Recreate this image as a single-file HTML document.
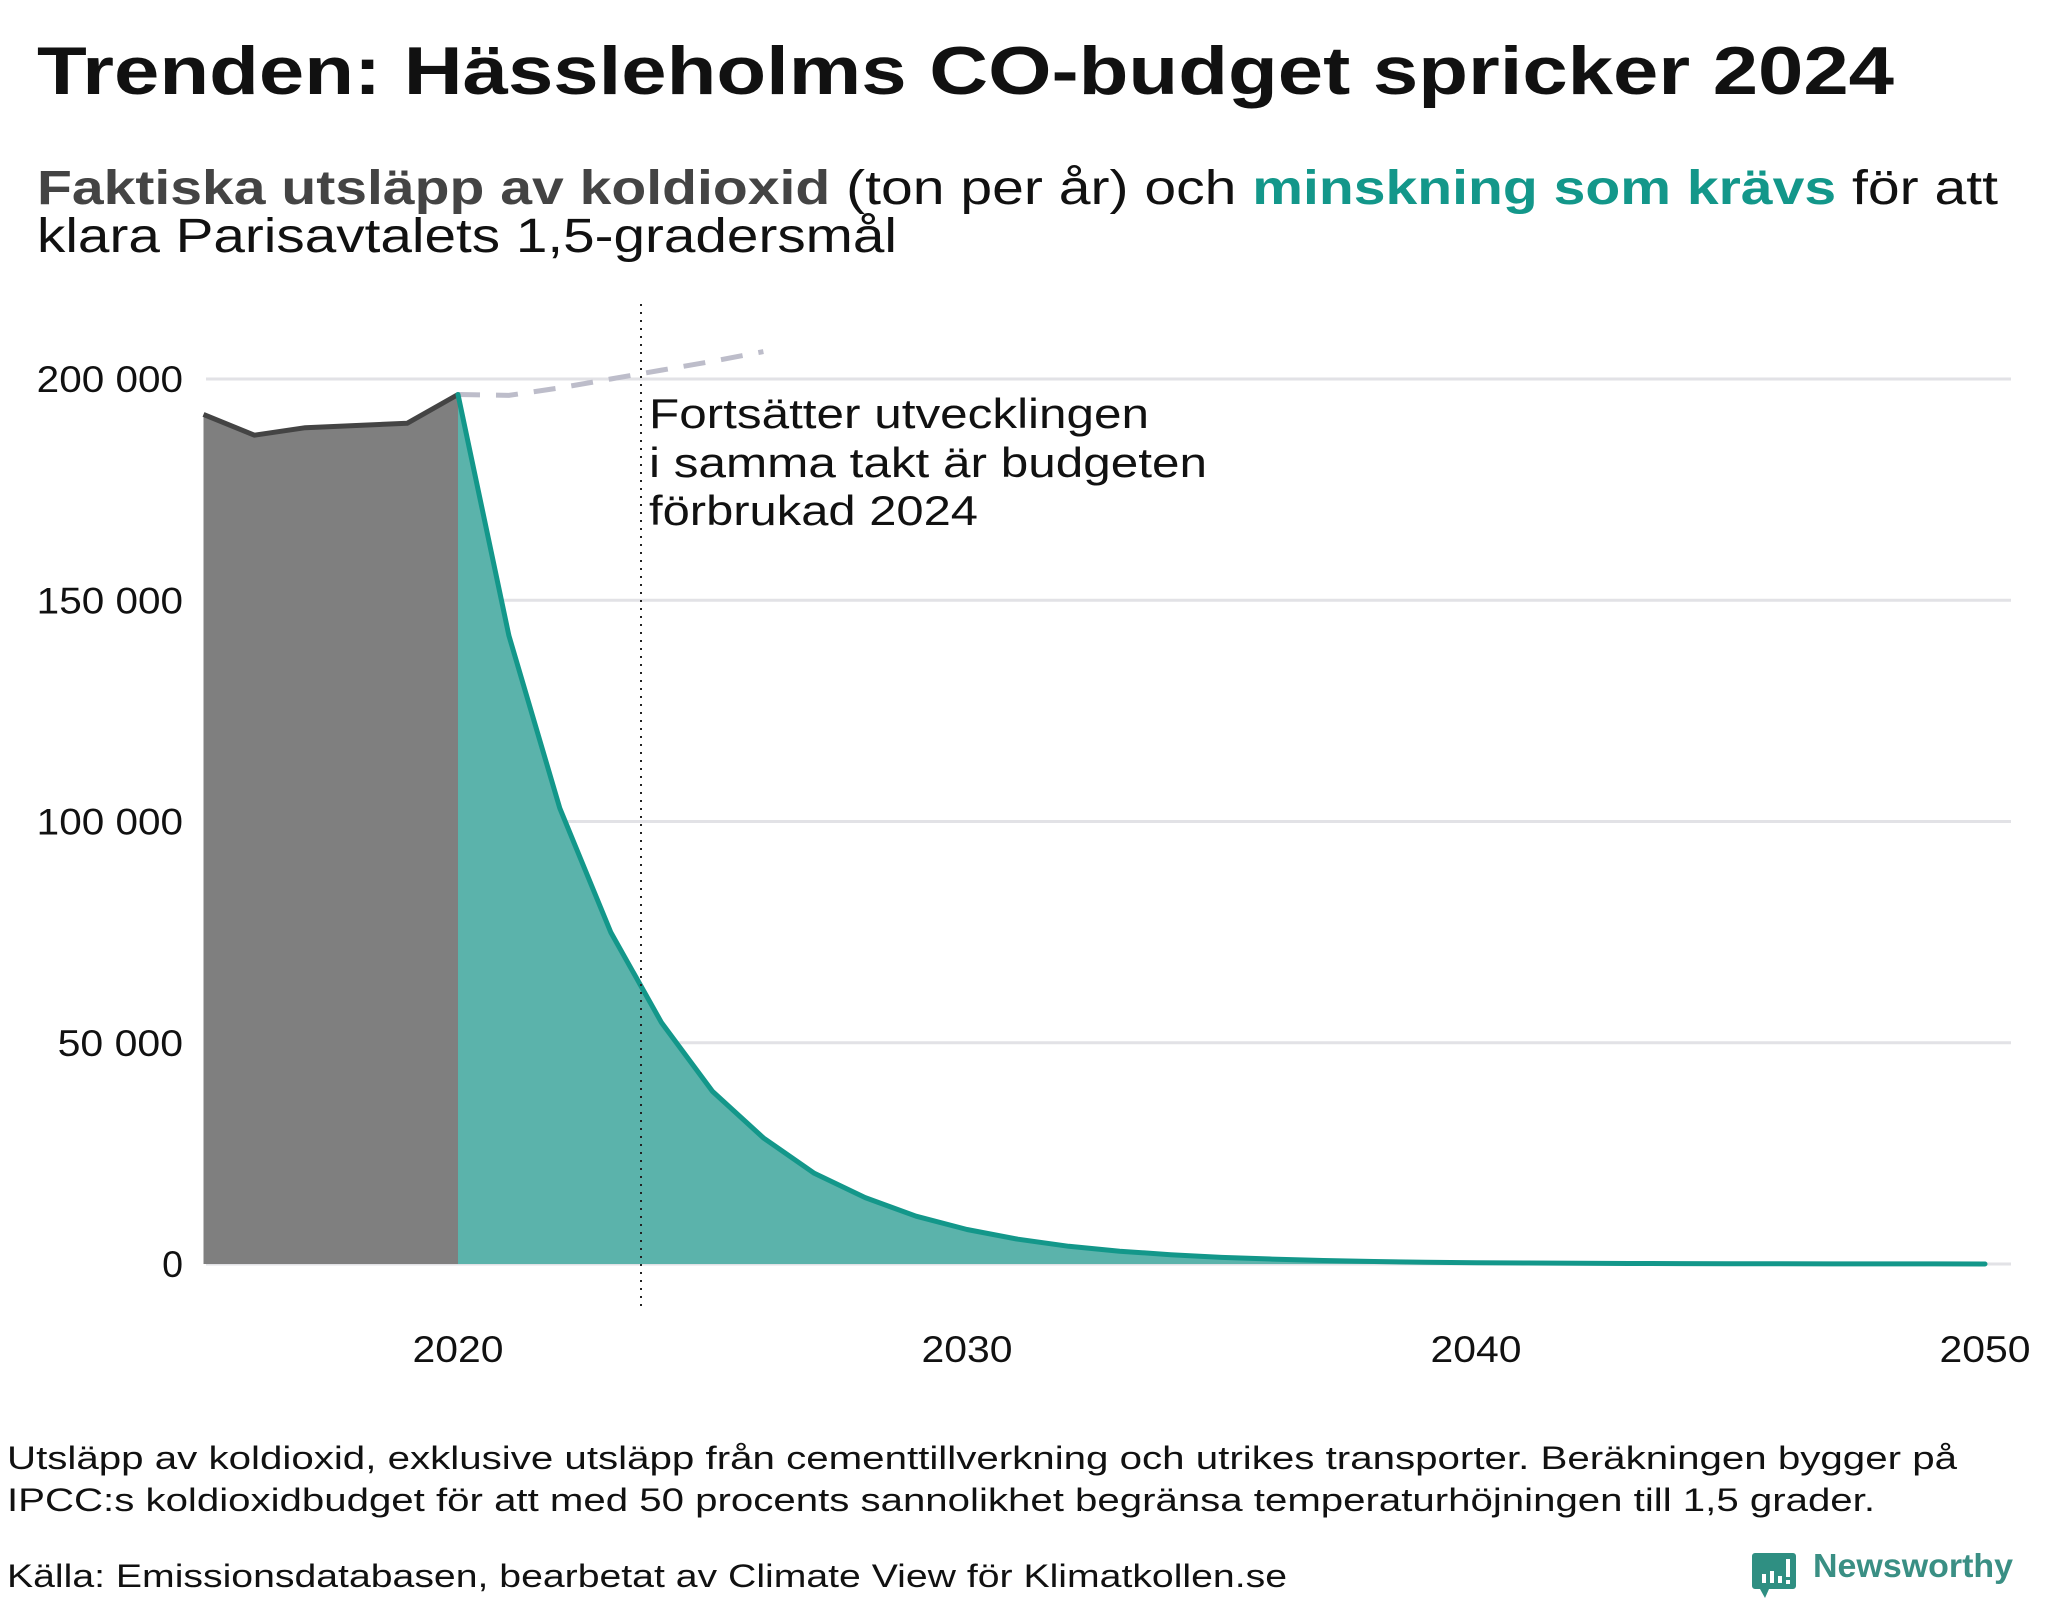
<!DOCTYPE html>
<html><head><meta charset="utf-8"><style>
html,body{margin:0;padding:0;background:#fff;}
svg{display:block;font-family:"Liberation Sans",sans-serif;}
</style></head><body>
<svg id="chart" width="2048" height="1600" viewBox="0 0 2048 1600" xmlns="http://www.w3.org/2000/svg">
<text x="37" y="94" font-size="68" font-weight="bold" fill="#111" textLength="1857" lengthAdjust="spacingAndGlyphs">Trenden: Hässleholms CO-budget spricker 2024</text>
<text x="37" y="204" font-size="48" fill="#111" textLength="1961" lengthAdjust="spacingAndGlyphs"><tspan font-weight="bold" fill="#444">Faktiska utsläpp av koldioxid</tspan> (ton per år) och <tspan font-weight="bold" fill="#13978a">minskning som krävs</tspan> för att</text>
<text x="37" y="252" font-size="48" fill="#111" textLength="860" lengthAdjust="spacingAndGlyphs">klara Parisavtalets 1,5-gradersmål</text>
<g id="grid"></g>
<g id="areas"></g>
<g id="lines"></g>
<g id="ylabels"></g>
<g id="xlabels"></g>
<line x1="641" y1="304" x2="641" y2="1310" stroke="#222" stroke-width="2" stroke-dasharray="2,6"/>
<g font-size="42" fill="#111">
<text x="649" y="428" textLength="500" lengthAdjust="spacingAndGlyphs">Fortsätter utvecklingen</text>
<text x="649" y="477" textLength="558" lengthAdjust="spacingAndGlyphs">i samma takt är budgeten</text>
<text x="649" y="525" textLength="329" lengthAdjust="spacingAndGlyphs">förbrukad 2024</text>
</g>
<text x="7" y="1469" font-size="32" fill="#111" textLength="1950" lengthAdjust="spacingAndGlyphs">Utsläpp av koldioxid, exklusive utsläpp från cementtillverkning och utrikes transporter. Beräkningen bygger på</text>
<text x="7" y="1511" font-size="32" fill="#111" textLength="1868" lengthAdjust="spacingAndGlyphs">IPCC:s koldioxidbudget för att med 50 procents sannolikhet begränsa temperaturhöjningen till 1,5 grader.</text>
<text x="7" y="1587" font-size="32" fill="#111" textLength="1280" lengthAdjust="spacingAndGlyphs">Källa: Emissionsdatabasen, bearbetat av Climate View för Klimatkollen.se</text>
<g>
<path d="M1755 1553 h38 a3 3 0 0 1 3 3 v30 a3 3 0 0 1 -3 3 h-24 l-4 9 l-5 -9 h-5 a3 3 0 0 1 -3 -3 v-30 a3 3 0 0 1 3 -3z" fill="#2f8f82"/>
<rect x="1762" y="1574" width="4" height="9" fill="#fff"/>
<rect x="1770" y="1571" width="4" height="12" fill="#fff"/>
<rect x="1778" y="1576" width="4" height="7" fill="#fff"/>
<rect x="1786" y="1559" width="4" height="18" fill="#fff"/>
<rect x="1786" y="1580" width="4" height="4" fill="#fff"/>
<text x="1813" y="1577" font-size="33" font-weight="bold" fill="#3a8f84" textLength="200" lengthAdjust="spacingAndGlyphs">Newsworthy</text>
</g>
</svg>
<script>
const histYears=[2015,2016,2017,2018,2019,2020];
const histValues=[192000,187300,189000,189500,190000,196500];
const pathYears=[2020,2021,2022,2023,2024,2025,2026,2027,2028,2029,2030,2031,2032,2033,2034,2035,2036,2037,2038,2039,2040,2041,2042,2043,2044,2045,2046,2047,2048,2049,2050];
const pathValues=[196500,142000,103000,75000,54500,39000,28500,20500,15000,10800,7800,5600,4000,2900,2100,1500,1100,800,570,410,300,220,160,110,80,60,40,30,20,15,10];
const trendYears=[2020,2021,2022,2023,2024,2025,2026];
const trendValues=[196500,196300,198000,200000,202000,204000,206200];
const yTicks=[0,50000,100000,150000,200000];
const yTickLabels=["0","50 000","100 000","150 000","200 000"];
const xTicks=[2020,2030,2040,2050];
const xTickLabels=["2020","2030","2040","2050"];
const NS="http://www.w3.org/2000/svg";
const x=y=>458+(y-2020)*50.9;
const yS=v=>1264-v*(885/200000);
function mk(tag,attrs,parent){const e=document.createElementNS(NS,tag);for(const k in attrs)e.setAttribute(k,attrs[k]);document.getElementById(parent).appendChild(e);return e;}
yTicks.forEach((t,i)=>{
  const l=mk('line',{x1:206,x2:2011,y1:yS(t),y2:yS(t),stroke:'#e2e2e6','stroke-width':3},'grid');
  
  
  const lab=yTickLabels[i];
  const tx=mk('text',{x:183,y:yS(t)+13,'text-anchor':'end','font-size':37,fill:'#111',textLength:lab.length*20.9,lengthAdjust:'spacingAndGlyphs'},'ylabels');
  tx.textContent=lab;
  
  
});
xTicks.forEach((t,i)=>{
  const tx=mk('text',{x:x(t),y:1362,'text-anchor':'middle','font-size':37,fill:'#111',textLength:91,lengthAdjust:'spacingAndGlyphs'},'xlabels');
  tx.textContent=xTickLabels[i];
  
  
});
function pts(ys,vs){return ys.map((yy,i)=>x(yy).toFixed(1)+','+yS(vs[i]).toFixed(1)).join(' ');}
const ha=mk('polygon',{points:x(histYears[0])+','+yS(0)+' '+pts(histYears,histValues)+' '+x(histYears[histYears.length-1])+','+yS(0),fill:'#7f7f7f'},'areas');


const pa=mk('polygon',{points:x(pathYears[0])+','+yS(0)+' '+pts(pathYears,pathValues)+' '+x(pathYears[pathYears.length-1])+','+yS(0),fill:'#5bb3ab'},'areas');


const tl=mk('polyline',{points:pts(trendYears,trendValues),fill:'none',stroke:'#bdbdca','stroke-width':5,'stroke-dasharray':'22,16'},'lines');


const hl=mk('polyline',{points:pts(histYears,histValues),fill:'none',stroke:'#444','stroke-width':5,'stroke-linejoin':'round'},'lines');


const pl=mk('polyline',{points:pts(pathYears,pathValues),fill:'none',stroke:'#13978a','stroke-width':5,'stroke-linejoin':'round','stroke-linecap':'round'},'lines');


</script>
</body></html>
